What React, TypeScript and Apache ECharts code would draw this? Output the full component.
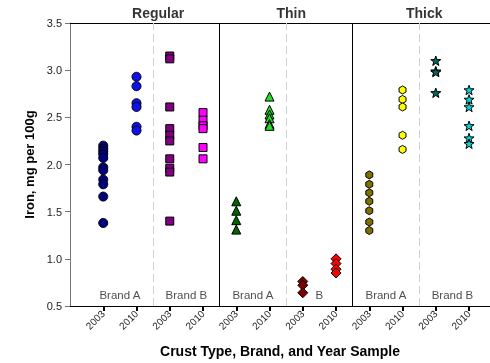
import React, { useEffect, useRef } from "react";
import * as echarts from "echarts";

const groupTitles = ["Regular", "Thin", "Thick"];
const groupCenters = [2.5, 6.5, 10.5];
const brandLabels = ["Brand A", "Brand B", "Brand A", "B", "Brand A", "Brand B"];
const brandCenters = [1.5, 3.5, 5.5, 7.5, 9.5, 11.5];
const yearLabels = ["2003", "2010", "2003", "2010", "2003", "2010", "2003", "2010", "2003", "2010", "2003", "2010"];
const yTicks = [0.5, 3.5, 0.5]; // min, max, interval
const solidSeparators = [4.5, 8.5];
const dashedSeparators = [2.5, 6.5, 10.5];

// Iron, mg per 100g
const regularA2003 = [2.2, 2.17, 2.14, 2.11, 2.07, 1.97, 1.94, 1.84, 1.79, 1.66, 1.38];
const regularA2010 = [2.93, 2.83, 2.65, 2.61, 2.4, 2.36];
const regularB2003 = [3.15, 3.12, 2.61, 2.38, 2.31, 2.25, 2.06, 1.96, 1.92, 1.4];
const regularB2010 = [2.55, 2.47, 2.41, 2.38, 2.18, 2.06];
const thinA2003 = [1.61, 1.51, 1.41, 1.31];
const thinA2010 = [2.72, 2.58, 2.53, 2.49, 2.43, 2.41];
const thinB2003 = [0.76, 0.72, 0.64];
const thinB2010 = [1.0, 0.95, 0.89, 0.85];
const thickA2003 = [1.89, 1.79, 1.7, 1.61, 1.51, 1.39, 1.3];
const thickA2010 = [2.79, 2.69, 2.61, 2.31, 2.16];
const thickB2003 = [3.1, 2.99, 2.98, 2.76];
const thickB2010 = [2.79, 2.69, 2.61, 2.41, 2.28, 2.22];

const HEX = "path://M0,-1 L0.866,-0.5 L0.866,0.5 L0,1 L-0.866,0.5 L-0.866,-0.5 Z";
const STAR =
  "path://M0,-1 L0.235,-0.324 L0.951,-0.309 L0.38,0.124 L0.588,0.809 L0,0.4 L-0.588,0.809 L-0.38,0.124 L-0.951,-0.309 L-0.235,-0.324 Z";

const samples = [
  { values: regularA2003, symbol: "circle", color: "#000080", size: 9 },
  { values: regularA2010, symbol: "circle", color: "#1010E8", size: 9 },
  { values: regularB2003, symbol: "rect", color: "#800080", size: 8 },
  { values: regularB2010, symbol: "rect", color: "#FF00FF", size: 8 },
  { values: thinA2003, symbol: "triangle", color: "#006400", size: 9 },
  { values: thinA2010, symbol: "triangle", color: "#22DD22", size: 9 },
  { values: thinB2003, symbol: "diamond", color: "#800000", size: 10 },
  { values: thinB2010, symbol: "diamond", color: "#FF0000", size: 10 },
  { values: thickA2003, symbol: HEX, color: "#7F7000", size: 8 },
  { values: thickA2010, symbol: HEX, color: "#FFFF00", size: 8 },
  { values: thickB2003, symbol: STAR, color: "#006666", size: 10 },
  { values: thickB2010, symbol: STAR, color: "#00D8D8", size: 10 },
];

const FONT = "Arial, 'Liberation Sans', sans-serif";

export default function App() {
  const ref = useRef<HTMLDivElement>(null);
  useEffect(() => {
    if (!ref.current) return;
    const chart = echarts.init(ref.current, undefined, { renderer: "svg" });
    const positions = yearLabels.map((_, i) => i + 1);
    const series: any[] = samples.map((s, i) => ({
      type: "scatter",
      name: "s" + i,
      symbol: s.symbol,
      symbolSize: s.size,
      symbolKeepAspect: true,
      itemStyle: { color: s.color, borderColor: "#000", borderWidth: 1, opacity: 1 },
      data: s.values.map((v) => [positions[i], v]),
      z: 5,
    }));
    series.push({
      type: "scatter",
      name: "separators",
      data: [],
      silent: true,
      markLine: {
        symbol: ["none", "none"],
        silent: true,
        label: { show: false },
        data: [
          ...solidSeparators.map((x) => ({ xAxis: x, lineStyle: { color: "#000", width: 1, type: "solid" } })),
          ...dashedSeparators.map((x) => ({ xAxis: x, lineStyle: { color: "#cfcfcf", width: 1, type: [8, 4] } })),
        ],
      },
    });
    series.push({
      type: "scatter",
      name: "groupTitles",
      symbolSize: 0,
      silent: true,
      data: groupCenters.map((x) => [x, yTicks[1]]),
      label: {
        show: true,
        position: "top",
        distance: 3,
        offset: [5, 0],
        formatter: (p: any) => groupTitles[p.dataIndex],
        fontFamily: FONT,
        fontWeight: "bold",
        fontSize: 14,
        color: "#000",
      },
    });
    series.push({
      type: "scatter",
      name: "brandLabels",
      symbolSize: 0,
      silent: true,
      data: brandCenters.map((x) => [x, yTicks[0]]),
      label: {
        show: true,
        position: "top",
        distance: 5,
        formatter: (p: any) => brandLabels[p.dataIndex],
        fontFamily: FONT,
        fontSize: 11.5,
        color: "#222",
      },
    });

    chart.setOption({
      animation: false,
      textStyle: { fontFamily: FONT },
      grid: { left: 70, top: 23, width: 420, bottom: 55, containLabel: false },
      xAxis: [
        {
          type: "value",
          min: 0,
          max: 12.63,
          interval: 1,
          name: "Crust Type, Brand, and Year Sample",
          nameLocation: "middle",
          nameGap: 38,
          nameTextStyle: { fontFamily: FONT, fontWeight: "bold", fontSize: 14, color: "#000" },
          splitLine: { show: false },
          axisLine: { show: true, lineStyle: { color: "#000", width: 1 } },
          axisTick: { show: true, customValues: positions, length: 5, lineStyle: { color: "#000", width: 2 } },
          axisLabel: {
            show: true,
            customValues: positions,
            rotate: 45,
            margin: 6,
            fontSize: 10,
            color: "#222",
            fontFamily: FONT,
            formatter: (v: number) => yearLabels[Math.round(v) - 1] ?? "",
          },
        },
        {
          type: "value",
          position: "top",
          min: 0,
          max: 12.63,
          axisLine: { show: true, lineStyle: { color: "#000", width: 1 } },
          axisTick: { show: false },
          axisLabel: { show: false },
          splitLine: { show: false },
        },
      ],
      yAxis: {
        type: "value",
        min: yTicks[0],
        max: yTicks[1],
        interval: yTicks[2],
        name: "Iron, mg per 100g",
        nameLocation: "middle",
        nameGap: 33,
        nameTextStyle: { fontFamily: FONT, fontWeight: "bold", fontSize: 13, color: "#000" },
        splitLine: { show: false },
        axisLine: { show: true, lineStyle: { color: "#777", width: 1 } },
        axisTick: { show: true, length: 5, lineStyle: { color: "#777" } },
        axisLabel: {
          fontSize: 11,
          color: "#222",
          margin: 8,
          fontFamily: FONT,
          formatter: (v: number) => v.toFixed(1),
        },
      },
      series,
    });
    return () => chart.dispose();
  }, []);
  return <div ref={ref} style={{ position: "fixed", left: 0, top: 0, width: 490, height: 363 }} />;
}
